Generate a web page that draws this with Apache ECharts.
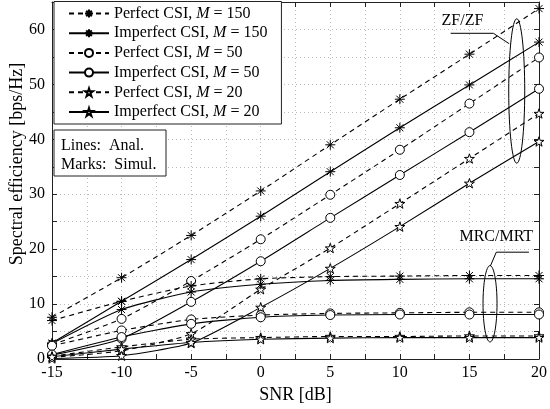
<!DOCTYPE html>
<html>
<head>
<meta charset="utf-8">
<script src="https://cdn.jsdelivr.net/npm/echarts@6/dist/echarts.min.js"></script>
<style>
  html, body { margin: 0; padding: 0; background: #fff; }
  #main { width: 550px; height: 409px; }
</style>
</head>
<body>
<div id="main"></div>
<script>
// SNR points (dB)
const snr = [-15, -10, -5, 0, 5, 10, 15, 20];

// ZF/ZF curves
const zfPerf150 = [7.6, 14.8, 22.5, 30.6, 39.0, 47.3, 55.5, 63.8];
const zfImp150 = [2.9, 10.5, 18.1, 26.0, 34.1, 42.1, 49.9, 57.7];
const zfPerf50 = [2.6, 7.3, 14.2, 21.8, 29.9, 38.1, 46.5, 54.9];
const zfImp50 = [0.7, 3.7, 10.4, 17.8, 25.7, 33.5, 41.3, 49.2];
const zfPerf20 = [0.3, 1.5, 4.6, 12.7, 20.2, 28.3, 36.5, 44.7];
const zfImp20 = [0.1, 0.6, 2.9, 9.4, 16.5, 24.1, 32.0, 39.6];

// MRC/MRT curves
const mrcPerf150 = [7.0, 10.5, 13.3, 14.6, 15.0, 15.1, 15.2, 15.2];
const mrcImp150 = [2.8, 9.0, 12.2, 13.6, 14.3, 14.5, 14.6, 14.6];
const mrcPerf50 = [2.4, 5.2, 7.2, 8.0, 8.3, 8.4, 8.5, 8.5];
const mrcImp50 = [0.8, 4.0, 6.4, 7.6, 8.0, 8.1, 8.1, 8.1];
const mrcPerf20 = [0.5, 2.2, 3.6, 3.9, 4.1, 4.1, 4.2, 4.2];
const mrcImp20 = [0.4, 1.8, 3.0, 3.6, 3.8, 3.9, 3.9, 3.9];

const names = [
  'Perfect CSI, M = 150', 'Imperfect CSI, M = 150',
  'Perfect CSI, M = 50', 'Imperfect CSI, M = 50',
  'Perfect CSI, M = 20', 'Imperfect CSI, M = 20'
];

const FONT = '"Liberation Serif", "DejaVu Serif", serif';

// marker shapes
const asterisk = 'path://M5,0L5,10M0,5L10,5M1.5,1.5L8.5,8.5M1.5,8.5L8.5,1.5';
const star = 'path://M50,0L61.23,34.55L97.55,34.55L68.17,55.9L79.39,90.45L50,69.1L20.61,90.45L31.83,55.9L2.45,34.55L38.77,34.55Z';

function mk(name, vals, symbol, size, dashed) {
  return {
    name: name,
    type: 'line',
    data: snr.map((x, i) => [x, vals[i]]),
    symbol: symbol,
    symbolSize: size,
    symbolKeepAspect: true,
    smooth: 0.2,
    lineStyle: { color: '#000', width: 1.1, type: dashed ? [5, 4] : 'solid' },
    itemStyle: { color: '#fff', borderColor: '#000', borderWidth: 1 },
    emphasis: { disabled: true }
  };
}

const series = [
  mk(names[0], zfPerf150, asterisk, 10, true),
  mk(names[1], zfImp150, asterisk, 10, false),
  mk(names[2], zfPerf50, 'circle', 9, true),
  mk(names[3], zfImp50, 'circle', 9, false),
  mk(names[4], zfPerf20, star, 10, true),
  mk(names[5], zfImp20, star, 10, false),
  mk(names[0], mrcPerf150, asterisk, 10, true),
  mk(names[1], mrcImp150, asterisk, 10, false),
  mk(names[2], mrcPerf50, 'circle', 9, true),
  mk(names[3], mrcImp50, 'circle', 9, false),
  mk(names[4], mrcPerf20, star, 10, true),
  mk(names[5], mrcImp20, star, 10, false)
];

const gridLine = { show: true, lineStyle: { color: '#bbb', type: [1, 3], width: 1 } };
const axLine = { show: true, onZero: false, lineStyle: { color: '#222', width: 1 } };
const tick = { show: true, inside: true, length: 5, lineStyle: { color: '#222' } };

const chart = echarts.init(document.getElementById('main'), null, { renderer: 'canvas' });

chart.setOption({
  animation: false,
  backgroundColor: '#fff',
  grid: { left: 52, right: 7, top: 2, bottom: 47 },
  xAxis: [{
    type: 'value', min: -15, max: 20, interval: 2.5,
    axisLine: axLine, axisTick: tick, splitLine: gridLine,
    axisLabel: {
      margin: 6, color: '#000', fontFamily: FONT, fontSize: 16,
      formatter: v => (v % 5 === 0 ? String(v) : '')
    },
    name: 'SNR [dB]', nameLocation: 'middle', nameGap: 27,
    nameTextStyle: { color: '#000', fontFamily: FONT, fontSize: 18 }
  }, {
    type: 'value', position: 'top', min: -15, max: 20, interval: 2.5,
    axisLine: axLine, axisTick: tick, splitLine: { show: false },
    axisLabel: { show: false }
  }],
  yAxis: [{
    type: 'value', min: 0, max: 65, interval: 5,
    axisLine: axLine, axisTick: tick, splitLine: gridLine,
    axisLabel: {
      margin: 7, color: '#000', fontFamily: FONT, fontSize: 16, showMaxLabel: false,
      formatter: v => (v % 10 === 0 ? String(v) : '')
    }
  }, {
    type: 'value', position: 'right', min: 0, max: 65, interval: 5,
    axisLine: axLine, axisTick: tick, splitLine: { show: false },
    axisLabel: { show: false }
  }],
  legend: {
    data: names,
    orient: 'vertical',
    left: 54, top: 1.5,
    padding: [4, 14, 4, 14],
    itemGap: 3.7,
    itemWidth: 40, itemHeight: 10,
    backgroundColor: '#fff',
    borderColor: '#222', borderWidth: 1,
    selectedMode: false,
    formatter: n => n.replace('M =', '{i|M} ='),
    textStyle: {
      color: '#000', fontFamily: FONT, fontSize: 16, lineHeight: 16,
      rich: { i: { fontStyle: 'italic', fontFamily: FONT, fontSize: 16, color: '#000' } }
    }
  },
  series: series
});

// annotations placed via the axes
function px(x, y) { return chart.convertToPixel({ xAxisIndex: 0, yAxisIndex: 0 }, [x, y]); }

const zfC = px(18.4, 48.8), zfT = px(18.4, 62.0), zfB = px(18.4, 35.7);
const mrC = px(16.48, 10.06), mrT = px(16.48, 17.0), mrB = px(16.48, 3.1);
const zfLine = [px(13.65, 59.3), px(16.72, 59.3), px(17.86, 57.4)];
const mrLine = [px(19.28, 19.45), px(16.93, 19.45), px(16.5, 16.9)];
const zfTxt = px(14.5, 61.5), mrTxt = px(16.93, 22.3);

chart.setOption({
  graphic: [
    { type: 'ellipse', z: 10, shape: { cx: zfC[0], cy: zfC[1], rx: 8, ry: (zfB[1] - zfT[1]) / 2 },
      style: { fill: null, stroke: '#000', lineWidth: 1 } },
    { type: 'ellipse', z: 10, shape: { cx: mrC[0], cy: mrC[1], rx: 7, ry: (mrB[1] - mrT[1]) / 2 },
      style: { fill: null, stroke: '#000', lineWidth: 1 } },
    { type: 'polyline', z: 10, shape: { points: zfLine }, style: { fill: null, stroke: '#000', lineWidth: 1 } },
    { type: 'polyline', z: 10, shape: { points: mrLine }, style: { fill: null, stroke: '#000', lineWidth: 1 } },
    { type: 'text', z: 10, x: zfTxt[0], y: zfTxt[1],
      style: { text: 'ZF/ZF', font: '16px ' + FONT, fill: '#000', align: 'center', verticalAlign: 'middle' } },
    { type: 'text', z: 10, x: mrTxt[0], y: mrTxt[1],
      style: { text: 'MRC/MRT', font: '16px ' + FONT, fill: '#000', align: 'center', verticalAlign: 'middle' } },
    // Lines/Marks note box
    { type: 'rect', z: 20, shape: { x: 54, y: 130, width: 112, height: 46 },
      style: { fill: '#fff', stroke: '#222', lineWidth: 1 } },
    { type: 'text', z: 21, x: 61, y: 145.5,
      style: { text: 'Lines:  Anal.', font: '16px ' + FONT, fill: '#000', verticalAlign: 'middle' } },
    { type: 'text', z: 21, x: 61, y: 164.5,
      style: { text: 'Marks:  Simul.', font: '16px ' + FONT, fill: '#000', verticalAlign: 'middle' } },
    // y axis title
    { type: 'text', z: 10, x: 17.5, y: 164, rotation: Math.PI / 2,
      style: { text: 'Spectral efficiency [bps/Hz]', font: '18px ' + FONT, fill: '#000',
               align: 'center', verticalAlign: 'middle' } }
  ]
});
</script>
</body>
</html>
